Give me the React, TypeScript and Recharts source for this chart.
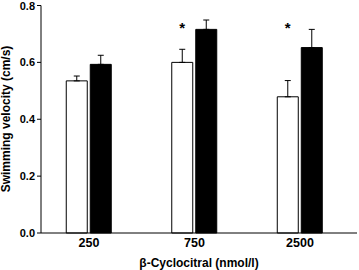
import { BarChart, Bar, XAxis, YAxis, ErrorBar, LabelList } from 'recharts'

const doses = ['250', '750', '2500']
const controlMean = [0.535, 0.6, 0.479]
const controlSem = [0.017, 0.046, 0.057]
const treatedMean = [0.593, 0.716, 0.652]
const treatedSem = [0.032, 0.033, 0.064]
const significant = [false, true, true]
const yTicks = [0, 0.2, 0.4, 0.6, 0.8]

// height (in cm/s) at which the significance asterisk sits
const STAR_LEVEL = 0.737

const data = doses.map((d, i) => ({
  idx: i,
  dose: d,
  control: controlMean[i],
  controlErr: [0, controlSem[i]],
  treated: treatedMean[i],
  treatedErr: [0, treatedSem[i]],
  sig: significant[i] ? '*' : '',
}))

const font = '"Liberation Sans", Arial, sans-serif'
const yTickStyle = { fill: '#000', fontSize: 11, fontWeight: 700, fontFamily: font }
const xTickStyle = { fill: '#000', fontSize: 12.5, fontWeight: 700, fontFamily: font }

function Star(props: any) {
  const { x, y, width, height, index, value } = props
  if (!value) return null
  const v = controlMean[index]
  const starY = y + height * (1 - STAR_LEVEL / v)
  // the asterisk glyph sits high in its em box, so push it down a little
  return (
    <text x={x + width / 2} y={starY} dy={4} textAnchor="middle" dominantBaseline="central"
      fontSize={15} fontWeight={700} fontFamily={font} fill="#000">
      *
    </text>
  )
}

export default function App() {
  return (
    <div style={{ position: 'absolute', left: 0, top: 0, width: 359, height: 270, background: '#fff' }}>
      <BarChart width={359} height={270} data={data} barSize={21} barGap={3}
        margin={{ top: 5.5, right: 2, bottom: 0, left: 0 }}>
        <XAxis dataKey="idx" type="number" domain={[-0.455, 2.54]} ticks={[0, 1, 2]}
          allowDataOverflow tickFormatter={(v) => doses[v]} tick={xTickStyle}
          tickLine={false} tickSize={0} tickMargin={5} height={37}
          axisLine={{ stroke: '#000' }}
          label={{ value: 'β-Cyclocitral (nmol/l)', position: 'insideBottom', offset: 3,
            fill: '#000', fontSize: 12, fontWeight: 700, fontFamily: font }} />
        <XAxis xAxisId="top" orientation="top" dataKey="idx" type="number" domain={[-0.455, 2.54]}
          allowDataOverflow tick={false} tickLine={false} height={0} axisLine={{ stroke: '#000' }} />
        <YAxis domain={[0, 0.8]} ticks={yTicks} tickFormatter={(v) => v.toFixed(1)}
          tick={yTickStyle} tickSize={4} tickMargin={2} width={41}
          axisLine={{ stroke: '#000' }} tickLine={{ stroke: '#000' }} />
        <YAxis yAxisId="right" orientation="right" domain={[0, 0.8]} tick={false}
          tickLine={false} width={0} axisLine={{ stroke: '#000' }} />
        <Bar dataKey="control" fill="#fff" stroke="#000" strokeWidth={1} isAnimationActive={false}>
          <ErrorBar dataKey="controlErr" direction="y" width={3} stroke="#000" strokeWidth={1} />
          <LabelList dataKey="sig" content={<Star />} />
        </Bar>
        <Bar dataKey="treated" fill="#000" stroke="#000" strokeWidth={1} isAnimationActive={false}>
          <ErrorBar dataKey="treatedErr" direction="y" width={3} stroke="#000" strokeWidth={1} />
        </Bar>
      </BarChart>
      <div style={{
        position: 'absolute', left: 6, top: 119, transform: 'translate(-50%, -50%) rotate(-90deg)',
        whiteSpace: 'nowrap', fontFamily: font, fontSize: 12, fontWeight: 700, color: '#000',
        lineHeight: 1,
      }}>
        Swimming velocity (cm/s)
      </div>
    </div>
  )
}
